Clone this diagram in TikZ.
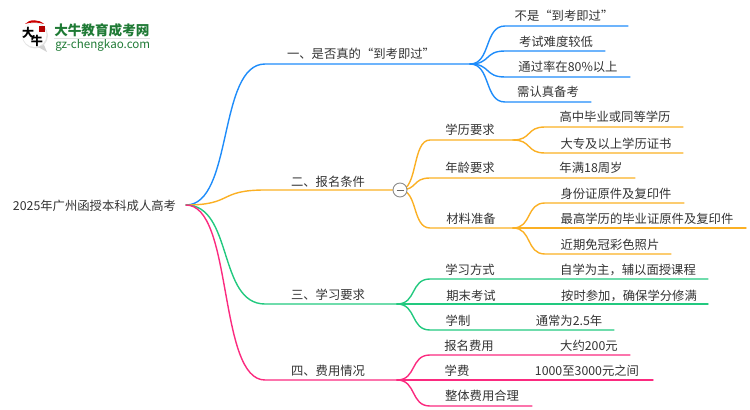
\documentclass[tikz,border=0pt]{standalone}
\usepackage{fontspec}
\setmainfont{Noto Sans CJK SC}
\usetikzlibrary{calc,positioning}
\definecolor{bluebranch}{HTML}{1E8CFA}
\definecolor{orangebranch}{HTML}{FBB024}
\definecolor{greenbranch}{HTML}{22C97F}
\definecolor{pinkbranch}{HTML}{FB2A7F}
\definecolor{txtgrey}{HTML}{333333}
\definecolor{logogreen}{HTML}{1F7A35}
\tikzset{
	lbl/.style={inner sep=0pt, text=txtgrey, font=\fontsize{9.25pt}{11pt}\selectfont, text height=8pt, text depth=1.5pt, yshift=-0.5pt},
	link/.style={line width=1.05pt, line cap=round},
	curve/.style={to path={.. controls ($(\tikztostart)!0.6!(\tikztostart -| \tikztotarget)$) and ($(\tikztotarget)!0.6!(\tikztotarget -| \tikztostart)$) .. (\tikztotarget)}}
}

\begin{document}
\begin{tikzpicture}[x=0.75pt,y=-0.75pt]
	\useasboundingbox (0,0) rectangle (750,410);

	% logo
	\node[circle, fill=black!10, minimum size=19.5pt, inner sep=0pt] (logoshade) at (35,35.5) {};
	\node[circle, fill=white, minimum size=18pt, inner sep=0pt] (logodisc) at (34.5,35) {};
	\fill[black!18] (38,47) -- (47,52) -- (44,45) -- cycle;
	\fill[red!80!black] (25,24) .. controls (29,19) and (39,19) .. (44,24) .. controls (38,22) and (30,22) .. cycle;
	\fill[red!70!black] (39,26) rectangle (45,32);
	\node[inner sep=0pt, font=\fontsize{9pt}{10pt}\selectfont\bfseries] (logoda) at (28,33) {大};
	\node[inner sep=0pt, font=\fontsize{9pt}{10pt}\selectfont\bfseries] (logoniu) at (37,41) {牛};
	\node[inner sep=0pt, text=logogreen, font=\fontsize{10.2pt}{11pt}\selectfont\bfseries, right] (logotitle) at (54,30) {大牛教育成考网};
	\node[inner sep=0pt, text=logogreen, font=\fontsize{8.7pt}{9pt}\selectfont, right] (logourl) at (55,45) {gz-chengkao.com};
	\draw[black!12] (54,38.5) -- (150,38.5);

	% root and main branch points
	\node[lbl] (root) at (94.5,205) {2025年广州函授本科成人高考};
	\coordinate (rootend) at (186,205);
	\coordinate (a) at (265,64);
	\coordinate (aend) at (470,64);
	\coordinate (b) at (265,190);
	\coordinate (bend) at (393,190);
	\coordinate (c) at (265,304);
	\coordinate (cend) at (397,304);
	\coordinate (d) at (265,380);
	\coordinate (dend) at (397,380);

	% first branch
	\node[lbl] (atext) at (361,53.5) {一、是否真的“到考即过”};
	\draw[link, bluebranch] (rootend) to[curve] (a) -- (aend);
	\coordinate (a1) at (505,26);
	\coordinate (a1end) at (628,26);
	\coordinate (a2) at (505,51);
	\coordinate (a2end) at (605,51);
	\coordinate (a3) at (505,77);
	\coordinate (a3end) at (630,77);
	\coordinate (a4) at (505,102);
	\coordinate (a4end) at (591,102);
	\draw[link, bluebranch] (aend) to[curve] (a1) -- (a1end);
	\draw[link, bluebranch] (aend) to[curve] (a2) -- (a2end);
	\draw[link, bluebranch] (aend) to[curve] (a3) -- (a3end);
	\draw[link, bluebranch] (aend) to[curve] (a4) -- (a4end);
	\node[lbl] (a1text) at (564,16) {不是“到考即过”};
	\node[lbl] (a2text) at (556,42) {考试难度较低};
	\node[lbl] (a3text) at (568,67) {通过率在80\%以上};
	\node[lbl] (a4text) at (548,92) {需认真备考};

	% second branch
	\node[lbl] (btext) at (328,181) {二、报名条件};
	\draw[link, orangebranch] (rootend) to[curve] (b) -- (bend);
	\coordinate (b1) at (430,140);
	\coordinate (b1end) at (513,140);
	\coordinate (b2) at (430,178);
	\coordinate (b2end) at (635,178);
	\coordinate (b3) at (430,228);
	\coordinate (b3end) at (513,228);
	\coordinate (foldc) at (400,190);
	\draw[link, orangebranch] (foldc) to[curve] (b1) -- (b1end);
	\draw[link, orangebranch] (foldc) to[curve] (b2) -- (b2end);
	\draw[link, orangebranch] (foldc) to[curve] (b3) -- (b3end);
	\node[circle, draw=black!45, fill=white, line width=0.7pt, minimum size=10.5pt, inner sep=0pt] (fold) at (foldc) {};
	\draw[black!60, line width=0.6pt] ($(fold.center)+(-3.5,0)$) -- ($(fold.center)+(3.5,0)$);
	\node[lbl] (b1text) at (470,130) {学历要求};
	\node[lbl] (b2text) at (470,167) {年龄要求};
	\node[lbl] (b3text) at (471,218) {材料准备};
	\node[lbl] (b2leaf) at (591,167.5) {年满18周岁};

	\coordinate (b11) at (545,127);
	\coordinate (b11end) at (683,127);
	\coordinate (b12) at (545,153);
	\coordinate (b12end) at (683,153);
	\draw[link, orangebranch] (b1end) to[curve] (b11) -- (b11end);
	\draw[link, orangebranch] (b1end) to[curve] (b12) -- (b12end);
	\node[lbl] (b11text) at (615,117) {高中毕业或同等学历};
	\node[lbl] (b12text) at (616,143) {大专及以上学历证书};

	\coordinate (b31) at (545,203);
	\coordinate (b31end) at (684,203);
	\coordinate (b32end) at (746,228);
	\coordinate (b33) at (545,254);
	\coordinate (b33end) at (671,254);
	\draw[link, orangebranch] (b3end) to[curve] (b31) -- (b31end);
	\draw[link, orangebranch] (b3end) -- (b32end);
	\draw[link, orangebranch] (b3end) to[curve] (b33) -- (b33end);
	\node[lbl] (b31text) at (616,193) {身份证原件及复印件};
	\node[lbl] (b32text) at (647,218) {最高学历的毕业证原件及复印件};
	\node[lbl] (b33text) at (610,244) {近期免冠彩色照片};

	% third branch
	\node[lbl] (ctext) at (328,294) {三、学习要求};
	\draw[link, greenbranch] (rootend) to[curve] (c) -- (cend);
	\coordinate (c1) at (430,279);
	\coordinate (c1end) at (708,279);
	\coordinate (c2end) at (708,304);
	\coordinate (c3) at (430,330);
	\coordinate (c3end) at (614,330);
	\draw[link, greenbranch] (cend) to[curve] (c1) -- (c1end);
	\draw[link, greenbranch] (cend) -- (c2end);
	\draw[link, greenbranch] (cend) to[curve] (c3) -- (c3end);
	\node[lbl] (c1text) at (470,269) {学习方式};
	\node[lbl] (c2text) at (471,295) {期末考试};
	\node[lbl] (c3text) at (458,320) {学制};
	\node[lbl] (c1leaf) at (628,269) {自学为主，辅以面授课程};
	\node[lbl] (c2leaf) at (629,295) {按时参加，确保学分修满};
	\node[lbl] (c3leaf) at (569,320) {通常为2.5年};

	% fourth branch
	\node[lbl] (dtext) at (328,370) {四、费用情况};
	\draw[link, pinkbranch] (rootend) to[curve] (d) -- (dend);
	\coordinate (d1) at (430,355);
	\coordinate (d1end) at (630,355);
	\coordinate (d2end) at (653,380);
	\coordinate (d3) at (430,406);
	\coordinate (d3end) at (532,406);
	\draw[link, pinkbranch] (dend) to[curve] (d1) -- (d1end);
	\draw[link, pinkbranch] (dend) -- (d2end);
	\draw[link, pinkbranch] (dend) to[curve] (d3) -- (d3end);
	\node[lbl] (d1text) at (469,345) {报名费用};
	\node[lbl] (d2text) at (457,370) {学费};
	\node[lbl] (d3text) at (482,395) {整体费用合理};
	\node[lbl] (d1leaf) at (589,345) {大约200元};
	\node[lbl] (d2leaf) at (587,370) {1000至3000元之间};
\end{tikzpicture}
\end{document}
